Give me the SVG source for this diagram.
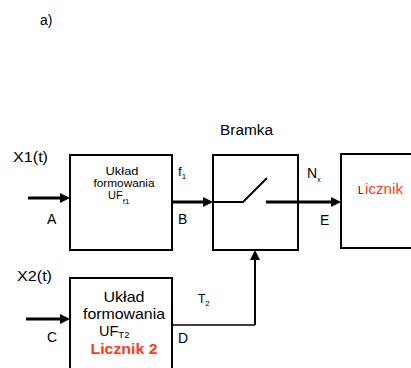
<svg xmlns="http://www.w3.org/2000/svg" width="411" height="368" viewBox="0 0 411 368">
<style>
.box{fill:#fff;stroke:#000;stroke-width:2}
.t{font-family:"Liberation Sans",Arial,sans-serif;fill:#000}
.red{fill:#ff3a1a}
.c{fill:none;stroke:#000}
</style>
<defs>
<marker id="ah" markerUnits="userSpaceOnUse" viewBox="0 0 10 10" markerWidth="10" markerHeight="10" refX="2" refY="5" orient="auto">
<path d="M0,0 L10,5 L0,10 z" fill="#000"/>
</marker>
</defs>
<rect width="411" height="368" fill="#fff"/>
<text class="t" x="40" y="25" font-size="14">a)</text>
<g id="uf1">
<rect class="box" x="70" y="155" width="102" height="95"/>
<text class="t" x="122" y="175" font-size="10.5" text-anchor="middle" textLength="33" lengthAdjust="spacingAndGlyphs">Układ</text>
<text class="t" x="124" y="187" font-size="10.5" text-anchor="middle" textLength="61" lengthAdjust="spacingAndGlyphs">formowania</text>
<text class="t" x="108" y="199" font-size="11">UF<tspan font-size="8" dy="5">f1</tspan></text>
</g>
<g id="bramka">
<rect class="box" x="213" y="155" width="85" height="95"/>
<text class="t" x="220" y="135" font-size="14" textLength="53" lengthAdjust="spacingAndGlyphs">Bramka</text>
</g>
<g id="licznik">
<rect class="box" x="341" y="154" width="80" height="94"/>
<text class="t" x="358" y="194" font-size="10">L</text>
<text class="t red" x="365" y="194" font-size="14" textLength="38" lengthAdjust="spacingAndGlyphs">icznik</text>
</g>
<g id="uf2">
<rect class="box" x="70" y="278" width="102" height="100"/>
<text class="t" x="124" y="302" font-size="14.5" text-anchor="middle" textLength="41" lengthAdjust="spacingAndGlyphs">Układ</text>
<text class="t" x="124" y="319" font-size="14.5" text-anchor="middle" textLength="82" lengthAdjust="spacingAndGlyphs">formowania</text>
<text class="t" x="99" y="336" font-size="14.5">UF<tspan font-size="9.5" dy="1.5">T2</tspan></text>
<text class="t red" x="124" y="354" font-size="14" font-weight="bold" text-anchor="middle" textLength="67" lengthAdjust="spacingAndGlyphs">Licznik 2</text>
</g>
<g id="connectors">
<path class="c" d="M28,198 H62" stroke-width="3" marker-end="url(#ah)"/>
<path class="c" d="M26,319 H62" stroke-width="3" marker-end="url(#ah)"/>
<path class="c" d="M172,202 H205" stroke-width="3" marker-end="url(#ah)"/>
<path class="c" d="M213,202 H243 L267,178" stroke-width="2"/>
<path class="c" d="M266,202 H333" stroke-width="3" marker-end="url(#ah)"/>
<path class="c" d="M172,325 H255" stroke-width="1.4"/>
<path class="c" d="M255,325 V258" stroke-width="2" marker-end="url(#ah)"/>
</g>
<g id="labels">
<text class="t" x="13" y="162" font-size="14" textLength="35" lengthAdjust="spacingAndGlyphs">X1(t)</text>
<text class="t" x="47" y="224" font-size="14">A</text>
<text class="t" x="178" y="176" font-size="13">f<tspan font-size="8" dy="3">1</tspan></text>
<text class="t" x="178" y="224" font-size="14">B</text>
<text class="t" x="307" y="178" font-size="14">N<tspan font-size="7" dy="4">x</tspan></text>
<text class="t" x="320" y="225" font-size="14">E</text>
<text class="t" x="17" y="281" font-size="14" textLength="35" lengthAdjust="spacingAndGlyphs">X2(t)</text>
<text class="t" x="47" y="342" font-size="14">C</text>
<text class="t" x="178" y="343" font-size="14">D</text>
<text class="t" x="198" y="303" font-size="12">T<tspan font-size="8" dy="3">2</tspan></text>
</g>
</svg>
